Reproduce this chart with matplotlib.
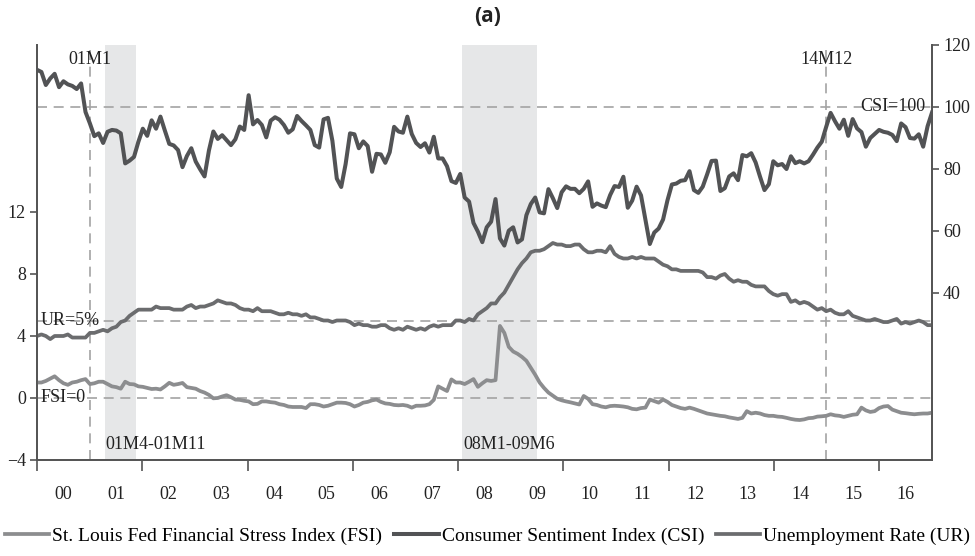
import matplotlib
matplotlib.use("Agg")
import matplotlib.pyplot as plt
import matplotlib.transforms as mtransforms
import numpy as np

plt.rcParams['font.family'] = ['Liberation Serif', 'DejaVu Serif']

# monthly data, 2000M1 - 2016M12
csi = [112.0, 111.3, 107.1, 109.2, 110.7, 106.4, 108.3, 107.3, 106.8, 105.8, 107.6, 98.4,
       94.7, 90.6, 91.5, 88.4, 92.0, 92.6, 92.4, 91.5, 81.8, 82.7, 83.9, 88.8,
       93.0, 90.7, 95.7, 93.0, 96.9, 92.4, 88.1, 87.6, 86.1, 80.6, 84.2, 86.7,
       82.4, 79.9, 77.6, 86.0, 92.1, 89.7, 90.9, 89.3, 87.7, 89.6, 93.7, 92.6,
       103.8, 94.4, 95.8, 94.2, 90.2, 95.6, 96.7, 95.9, 94.2, 91.7, 92.8, 97.1,
       95.5, 94.1, 92.6, 87.7, 86.9, 96.0, 96.5, 89.1, 76.9, 74.2, 81.6, 91.5,
       91.2, 86.7, 88.9, 87.4, 79.1, 84.9, 84.7, 82.0, 85.4, 93.6, 92.1, 91.7,
       96.9, 91.3, 88.4, 87.1, 88.3, 85.3, 90.4, 83.4, 83.4, 80.9, 76.1, 75.5,
       78.4, 70.8, 69.5, 62.6, 59.8, 56.4, 61.2, 63.0, 70.3, 57.6, 55.3, 60.1,
       61.2, 56.3, 57.3, 65.1, 68.7, 70.8, 66.0, 65.7, 73.5, 70.6, 67.4, 72.5,
       74.4, 73.6, 73.6, 72.2, 73.6, 76.0, 67.8, 68.9, 68.2, 67.7, 71.6, 74.5,
       74.2, 77.5, 67.5, 69.8, 74.3, 71.5, 63.7, 55.8, 59.5, 60.8, 63.7, 69.9,
       75.0, 75.3, 76.2, 76.4, 79.3, 73.2, 72.3, 74.3, 78.3, 82.6, 82.7, 72.9,
       73.8, 77.6, 78.6, 76.4, 84.5, 84.1, 85.1, 82.1, 77.5, 73.2, 75.1, 82.5,
       81.2, 81.6, 80.0, 84.1, 81.9, 82.5, 81.8, 82.5, 84.6, 86.9, 88.8, 93.6,
       98.1, 95.4, 93.0, 95.9, 90.7, 96.1, 93.1, 91.9, 87.2, 90.0, 91.3, 92.6,
       92.0, 91.7, 91.0, 89.0, 94.7, 93.5, 90.0, 89.8, 91.2, 87.2, 93.8, 98.2]

ur = [4.0, 4.1, 4.0, 3.8, 4.0, 4.0, 4.0, 4.1, 3.9, 3.9, 3.9, 3.9,
      4.2, 4.2, 4.3, 4.4, 4.3, 4.5, 4.6, 4.9, 5.0, 5.3, 5.5, 5.7,
      5.7, 5.7, 5.7, 5.9, 5.8, 5.8, 5.8, 5.7, 5.7, 5.7, 5.9, 6.0,
      5.8, 5.9, 5.9, 6.0, 6.1, 6.3, 6.2, 6.1, 6.1, 6.0, 5.8, 5.7,
      5.7, 5.6, 5.8, 5.6, 5.6, 5.6, 5.5, 5.4, 5.4, 5.5, 5.4, 5.4,
      5.3, 5.4, 5.2, 5.2, 5.1, 5.0, 5.0, 4.9, 5.0, 5.0, 5.0, 4.9,
      4.7, 4.8, 4.7, 4.7, 4.6, 4.6, 4.7, 4.7, 4.5, 4.4, 4.5, 4.4,
      4.6, 4.5, 4.4, 4.5, 4.4, 4.6, 4.7, 4.6, 4.7, 4.7, 4.7, 5.0,
      5.0, 4.9, 5.1, 5.0, 5.4, 5.6, 5.8, 6.1, 6.1, 6.5, 6.8, 7.3,
      7.8, 8.3, 8.7, 9.0, 9.4, 9.5, 9.5, 9.6, 9.8, 10.0, 9.9, 9.9,
      9.8, 9.8, 9.9, 9.9, 9.6, 9.4, 9.4, 9.5, 9.5, 9.4, 9.8, 9.3,
      9.1, 9.0, 9.0, 9.1, 9.0, 9.1, 9.0, 9.0, 9.0, 8.8, 8.6, 8.5,
      8.3, 8.3, 8.2, 8.2, 8.2, 8.2, 8.2, 8.1, 7.8, 7.8, 7.7, 7.9,
      8.0, 7.7, 7.5, 7.6, 7.5, 7.5, 7.3, 7.2, 7.2, 7.2, 6.9, 6.7,
      6.6, 6.7, 6.7, 6.2, 6.3, 6.1, 6.2, 6.1, 5.9, 5.7, 5.8, 5.6,
      5.7, 5.5, 5.4, 5.4, 5.6, 5.3, 5.2, 5.1, 5.0, 5.0, 5.1, 5.0,
      4.9, 4.9, 5.0, 5.1, 4.8, 4.9, 4.8, 4.9, 5.0, 4.9, 4.7, 4.7]

fsi = [1.0, 1.0, 1.1, 1.25, 1.4, 1.15, 0.95, 0.85, 1.0, 1.05, 1.15, 1.22,
       0.9, 0.95, 1.05, 1.05, 0.9, 0.75, 0.7, 0.6, 1.05, 0.9, 0.88, 0.75,
       0.72, 0.65, 0.58, 0.6, 0.55, 0.75, 0.98, 0.85, 0.9, 0.97, 0.7, 0.65,
       0.6, 0.45, 0.35, 0.2, -0.02, 0.0, 0.1, 0.18, 0.05, -0.1, -0.12, -0.18,
       -0.22, -0.4, -0.38, -0.22, -0.22, -0.27, -0.3, -0.4, -0.45, -0.55, -0.58, -0.58,
       -0.58, -0.65, -0.4, -0.4, -0.45, -0.55, -0.5, -0.4, -0.3, -0.3, -0.32, -0.4,
       -0.55, -0.45, -0.3, -0.25, -0.15, -0.1, -0.25, -0.35, -0.38, -0.45, -0.47, -0.45,
       -0.5, -0.62, -0.5, -0.5, -0.48, -0.4, -0.12, 0.75, 0.6, 0.45, 1.2, 1.0,
       1.0, 0.9, 1.05, 1.22, 0.72, 0.95, 1.15, 1.1, 1.15, 4.65, 4.2, 3.3,
       3.0, 2.85, 2.65, 2.4, 1.95, 1.5, 1.0, 0.65, 0.35, 0.15, -0.05, -0.15,
       -0.22, -0.28, -0.35, -0.42, 0.13, -0.05, -0.4, -0.45, -0.55, -0.6, -0.52, -0.5,
       -0.52, -0.55, -0.6, -0.7, -0.73, -0.65, -0.62, -0.1, -0.2, -0.3, -0.1, -0.25,
       -0.45, -0.55, -0.65, -0.7, -0.62, -0.7, -0.8, -0.9, -1.0, -1.05, -1.1, -1.15,
       -1.18, -1.25, -1.3, -1.35, -1.28, -0.85, -1.0, -0.95, -1.0, -1.1, -1.15, -1.15,
       -1.2, -1.22, -1.28, -1.35, -1.4, -1.42, -1.38, -1.3, -1.28, -1.2, -1.18, -1.15,
       -1.05, -1.12, -1.15, -1.22, -1.15, -1.08, -1.05, -0.62, -0.8, -0.9, -0.85, -0.65,
       -0.55, -0.52, -0.75, -0.85, -0.95, -0.98, -1.02, -1.05, -1.02, -1.0, -1.0, -0.95]

year_labels = ['00', '01', '02', '03', '04', '05', '06', '07', '08',
               '09', '10', '11', '12', '13', '14', '15', '16']

# month index of events
recessions = [(15, 22), (96, 113)]
recession_labels = ['01M4-01M11', '08M1-09M6']
mark_months = [12, 179]
mark_labels = ['01M1', '14M12']

n = len(csi)
x = 2000 + np.arange(n) * 17.0 / (n - 1)

c_csi = '#525355'
c_ur = '#6b6c6e'
c_fsi = '#8c8d8f'
c_ref = '#a3a3a3'
c_axis = '#555555'

fig = plt.figure(figsize=(9.75, 5.56), dpi=100)
ax = fig.add_axes([37 / 975, 1 - 460 / 556, 895 / 975, 415 / 556])
ax2 = ax.twinx()

for a, b in recessions:
    ax.axvspan(x[a] + 0.03, x[b] + 0.03, color='#e6e7e8', lw=0, zorder=0)

for m in mark_months:
    ax.axvline(x[m], color=c_ref, lw=1.2, dashes=(6, 4), zorder=1)

ax.axhline(5, color=c_ref, lw=1.2, dashes=(6, 4), zorder=1)
ax.axhline(0, color=c_ref, lw=1.2, dashes=(6, 4), zorder=1)
ax2.axhline(100, color=c_ref, lw=1.2, dashes=(6, 4), zorder=1)

l_fsi, = ax.plot(x, fsi, color=c_fsi, lw=2.7, label='St. Louis Fed Financial Stress Index (FSI)', zorder=3)
l_ur, = ax.plot(x, ur, color=c_ur, lw=2.7, label='Unemployment Rate (UR)', zorder=3)
l_csi, = ax2.plot(x, csi, color=c_csi, lw=2.9, label='Consumer Sentiment Index (CSI)', zorder=3)

ax.set_xlim(2000, 2017)
ax.set_ylim(-4, -4 + 415 / 15.5)
ax2.set_ylim(120 - 415 / 3.1, 120)

ax.set_yticks([-4, 0, 4, 8, 12])
ax2.set_yticks([40, 60, 80, 100, 120])
ax.set_xticks(np.arange(2000, 2017, 2))
ax.set_xticklabels([])
ax.set_xticks(np.arange(2000, 2017) + 0.5, minor=True)
ax.set_xticklabels(year_labels, minor=True)

for a in (ax, ax2):
    a.spines['top'].set_visible(False)
    for s in ('left', 'right', 'bottom'):
        a.spines[s].set_color(c_axis)
        a.spines[s].set_linewidth(1.3)
ax.tick_params(axis='y', labelsize=13, length=5, width=1.2, color=c_axis, labelcolor='#222222', pad=3)
ax2.tick_params(axis='y', labelsize=13, length=5, width=1.2, color=c_axis, labelcolor='#222222', pad=3)
ax.tick_params(axis='x', which='major', length=8, width=1.2, color=c_axis)
ax.tick_params(axis='x', which='minor', length=0, labelsize=13, pad=19, labelcolor='#222222')

tf = mtransforms.blended_transform_factory(ax.transData, ax.transAxes)
for m, lab in zip(mark_months, mark_labels):
    ax.text(x[m], 0.965, lab, transform=tf, ha='center', va='center', fontsize=13, color='#222222')
for (a, b), lab in zip(recessions, recession_labels):
    ax.text(x[a] + 0.05, -3.03, lab, ha='left', va='center', fontsize=13, color='#222222')

ax2.text(2016.88, 100, 'CSI=100', ha='right', va='center', fontsize=13, color='#222222')
ax.text(2000.06, 5, 'UR=5%', ha='left', va='center', fontsize=13, color='#222222')
ax.text(2000.06, 0, 'FSI=0', ha='left', va='center', fontsize=13, color='#222222')

fig.text(0.5, 1 - 17 / 556, '(a)', ha='center', va='center', fontsize=15,
         fontweight='bold', family=['Open Sans', 'DejaVu Sans'], color='#222222')

fig.legend(handles=[l_fsi, l_csi, l_ur], loc='center', bbox_to_anchor=(0.5, 1 - 536 / 556),
           ncol=3, frameon=False, fontsize=14, handlelength=2.3, handletextpad=0.15,
           columnspacing=0.6, borderaxespad=0)

fig.savefig('out.png', dpi=100)
